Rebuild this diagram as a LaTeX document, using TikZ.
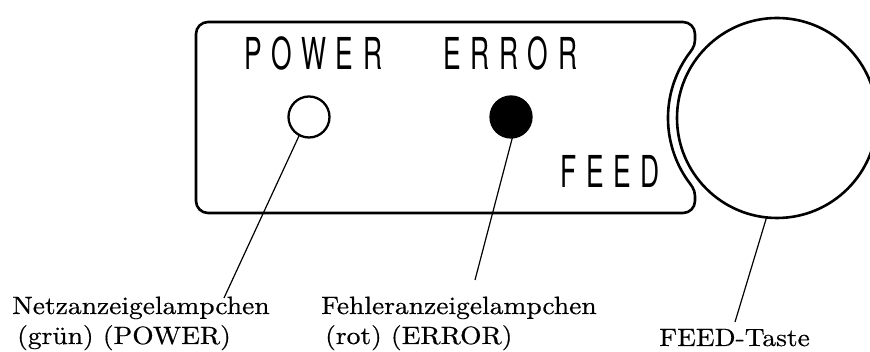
\documentclass[tikz,border=0pt]{standalone}
\usepackage{fontspec}
\usepackage{graphicx}
\newfontfamily\isofont[LetterSpace=37]{TeX Gyre Heros}
\newfontfamily\labfont[FakeBold=0.5]{lmroman10-regular.otf}
\newcommand\widetext[1]{\scalebox{1.1}[1]{#1}}
\newcommand\isotext[1]{\scalebox{0.6}[1]{#1}}
\begin{document}
\begin{tikzpicture}[x=1pt,y=1pt,
  panelline/.style={line width=2.6pt, line join=round},
  led/.style={circle, draw, line width=2.3pt, minimum size=41pt, inner sep=0pt, outer sep=0pt},
  button/.style={circle, draw, line width=2.6pt, minimum size=200pt, inner sep=0pt, outer sep=0pt},
  leader/.style={line width=1.2pt},
  lab/.style={anchor=base west, inner sep=0pt, font=\labfont\fontsize{25}{28}\selectfont},
  isolab/.style={anchor=base west, inner sep=0pt, font=\isofont\fontsize{44}{44}\selectfont}]
\useasboundingbox (0,0) rectangle (870,352);
\clip (0,0) rectangle (870,352);

% panel with notch
\draw[panelline] (208,139) -- (683,139) arc[start angle=-90, end angle=0, radius=12pt]
  -- (695,156) .. controls (695,163) and (690.6,167.4) .. (687.7,171.5)
  arc[start angle=215, end angle=145, radius=109pt]
  .. controls (690.6,300.6) and (695,305) .. (695,312)
  -- (695,318) arc[start angle=0, end angle=90, radius=12pt]
  -- (208,330) arc[start angle=90, end angle=180, radius=12pt]
  -- (196,151) arc[start angle=180, end angle=270, radius=12pt] -- cycle;

% panel texts
\node[isolab] (tpower) at (244,282) {\isotext{POWER}};
\node[isolab] (terror) at (443,282) {\isotext{ERROR}};
\node[isolab] (tfeed) at (560,164) {\isotext{FEED}};

% LEDs and button
\node[led] (pled) at (309,235) {};
\node[led, fill=black] (eled) at (511,235) {};
\node[button] (btn) at (777,234) {};

% labels
\node[lab] (netz1) at (12,38) {\widetext{Netzanzeigelampchen}};
\node[lab] (netz2) at (17,8) {\widetext{(grün) (POWER)}};
\node[lab] (fehl1) at (321,38) {\widetext{Fehleranzeigelampchen}};
\node[lab] (fehl2) at (325,8) {\widetext{(rot) (ERROR)}};
\node[lab] (taste) at (659,6) {\widetext{FEED-Taste}};

% leader ends
\coordinate (pend) at (224,54);
\coordinate (eend) at (475,72);
\coordinate (bend) at (735,30);

\draw[leader] (pled.-118) -- (pend);
\draw[leader] (eled.-86) -- (eend);
\draw[leader] (btn.-96) -- (bend);
\end{tikzpicture}
\end{document}
